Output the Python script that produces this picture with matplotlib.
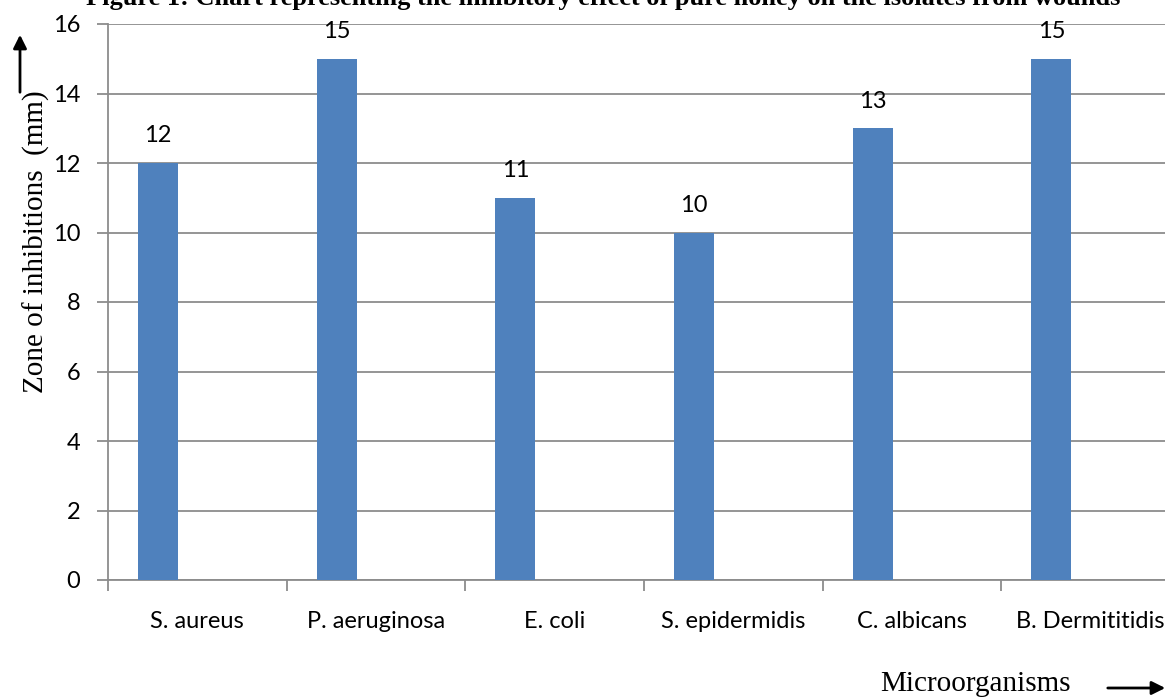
import matplotlib
matplotlib.use("Agg")
import matplotlib.pyplot as plt

# Zone of inhibition of pure honey against wound isolates
organisms = ["S. aureus", "P. aeruginosa", "E. coli", "S. epidermidis", "C. albicans", "B. Dermititidis"]
zones = [12, 15, 11, 10, 13, 15]
y_ticks = [0, 2, 4, 6, 8, 10, 12, 14, 16]

W, H = 1165, 697
fig = plt.figure(figsize=(W / 100, H / 100), dpi=100)
# axes run past the right edge, as in the cropped original
left, right, top, bottom = 108, 1180, 24, 580
ax = fig.add_axes([left / W, 1 - bottom / H, (right - left) / W, (bottom - top) / H])

sans = ["Lato", "DejaVu Sans"]
serif = ["Liberation Serif", "DejaVu Serif"]
grey = "#8c8c8c"

pos = [i + 0.28 for i in range(len(organisms))]
ax.bar(pos, zones, width=0.224, color="#4f81bd", zorder=3)
for x, v in zip(pos, zones):
    ax.text(x, v + 0.78, str(v), ha="center", va="center", fontsize=17, family=sans)

ax.set_xlim(0, len(organisms))
ax.set_ylim(0, 16)
ax.set_yticks(y_ticks)
ax.set_yticklabels([str(t) for t in y_ticks], family=sans, fontsize=17)
ax.set_xticks(range(len(organisms) + 1))
ax.set_xticklabels([])
ax.set_xticks([i + 0.5 for i in range(len(organisms))], minor=True)
ax.set_xticklabels(organisms, minor=True, family=sans, fontsize=17)
ax.tick_params(axis="x", which="major", length=8, color=grey, width=1.3)
ax.tick_params(axis="x", which="minor", length=0, pad=22)
ax.tick_params(axis="y", length=8, color=grey, width=1.3, pad=12)

ax.yaxis.grid(True, color=grey, linewidth=1.3, zorder=0)
for s in ["top", "right"]:
    ax.spines[s].set_visible(False)
for s in ["left", "bottom"]:
    ax.spines[s].set_color(grey)
    ax.spines[s].set_linewidth(1.3)

fig.text(603 / W, 1 - 5 / H,
         "Figure 1: Chart representing the inhibitory effect of pure honey on the isolates from wounds",
         ha="center", va="baseline", fontsize=19, fontweight="bold", family=serif)
fig.text(36 / W, 1 - 242 / H, "Zone of inhibitions  (mm)", rotation=90,
         ha="center", va="center", fontsize=21, family=serif)
fig.text(975 / W, 1 - 684 / H, "Microorganisms", ha="center", va="center",
         fontsize=21, family=serif)

# arrows next to the axis titles
fig.add_artist(matplotlib.patches.FancyArrowPatch(
    (20 / W, 1 - 95 / H), (20 / W, 1 - 32 / H), transform=fig.transFigure,
    arrowstyle="-|>", mutation_scale=20, color="black", lw=2))
fig.add_artist(matplotlib.patches.FancyArrowPatch(
    (1105 / W, 1 - 688 / H), (1168 / W, 1 - 688 / H), transform=fig.transFigure,
    arrowstyle="-|>", mutation_scale=20, color="black", lw=2))

fig.savefig("out.png", dpi=100)
